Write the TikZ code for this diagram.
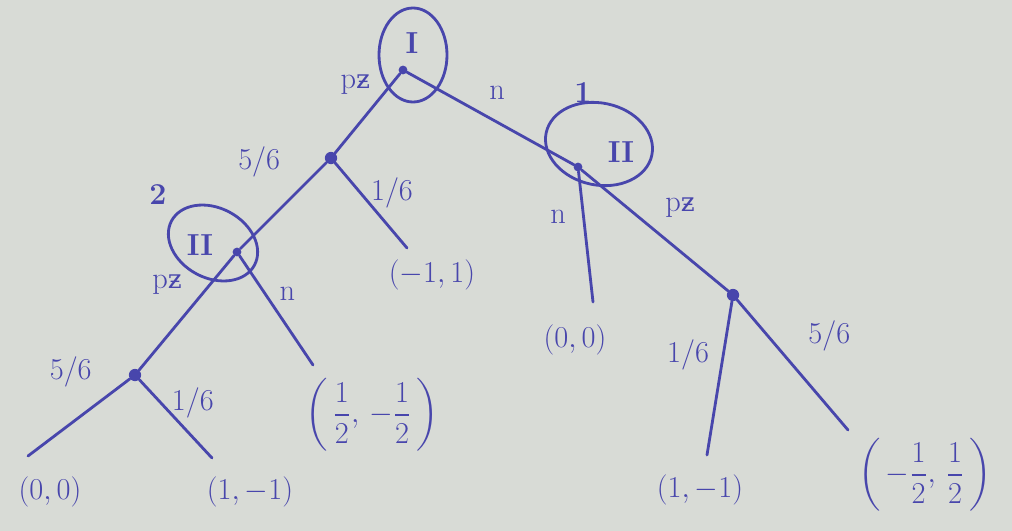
\documentclass[tikz,border=0pt]{standalone}
\usepackage{amsmath, amssymb}
\usepackage{xcolor}
\usepackage{fontspec}
\usepackage{tikz}

\newfontfamily\zfont{DejaVu Serif}

\definecolor{ink}{RGB}{72,70,172}
\definecolor{paper}{RGB}{216,219,214}

\newcommand{\pzlabel}{p{\zfont\fontsize{15}{17}\selectfont ƶ}}

\tikzset{
    branch/.style={ink, line width=1.6pt, line cap=round},
    infoset/.style={ink, line width=1.6pt},
    chance/.style={circle, fill=ink, inner sep=0pt, minimum size=7pt},
    decision/.style={circle, fill=ink, inner sep=0pt, minimum size=5pt},
    lbl/.style={text=ink, font=\LARGE},
    payoff/.style={text=ink, font=\LARGE},
}

\begin{document}
\begin{tikzpicture}[x=0.02cm, y=-0.02cm]
    \fill[paper] (0,0) rectangle (1012,531);

    % information sets
    \draw[infoset] (413,55) ellipse [x radius=34, y radius=47];
    \draw[infoset, rotate around={-12:(599,144)}] (599,144) ellipse [x radius=54, y radius=41];
    \draw[infoset, rotate around={-28:(213,243)}] (213,243) ellipse [x radius=47, y radius=35];

    \node[lbl] (playerI) at (412,43) {\textbf{I}};
    \node[lbl] (playerIIa) at (621,152) {\textbf{II}};
    \node[lbl] (playerIIb) at (200,245) {\textbf{II}};
    \node[lbl, font=\LARGE\bfseries] (setone) at (583,93) {1};
    \node[lbl, font=\LARGE\bfseries] (settwo) at (158,195) {2};

    % nodes
    \node[decision] (root) at (403,70) {};
    \node[chance] (c1) at (331,158) {};
    \node[decision] (d1) at (578,167) {};
    \node[decision] (d2) at (237,252) {};
    \node[chance] (c2) at (733,295) {};
    \node[chance] (c3) at (135,375) {};

    \coordinate (e1) at (407,248);
    \coordinate (e2) at (593,302);
    \coordinate (e3) at (313,365);
    \coordinate (e4) at (707,455);
    \coordinate (e5) at (848,430);
    \coordinate (e6) at (28,456);
    \coordinate (e7) at (212,458);

    % branches
    \draw[branch] (root) -- node[lbl, pos=0.35, above left] {\pzlabel} (c1);
    \draw[branch] (root) -- node[lbl, pos=0.45, above right, yshift=4pt] {n} (d1);
    \draw[branch] (c1) -- node[lbl, pos=0.25, above left, xshift=-10pt] {5/6} (d2);
    \draw[branch] (c1) -- node[lbl, pos=0.35, right, xshift=2pt] {1/6} (e1);
    \draw[branch] (d1) -- node[lbl, pos=0.35, left, xshift=-6pt] {n} (e2);
    \draw[branch] (d1) -- node[lbl, pos=0.45, above right, xshift=6pt] {\pzlabel} (c2);
    \draw[branch] (d2) -- node[lbl, pos=0.4, above left, xshift=-4pt] {\pzlabel} (c3);
    \draw[branch] (d2) -- node[lbl, pos=0.35, right, xshift=4pt] {n} (e3);
    \draw[branch] (c2) -- node[lbl, pos=0.35, left, xshift=-4pt] {1/6} (e4);
    \draw[branch] (c2) -- node[lbl, pos=0.45, above right, xshift=8pt] {5/6} (e5);
    \draw[branch] (c3) -- node[lbl, pos=0.2, above left, xshift=-6pt] {5/6} (e6);
    \draw[branch] (c3) -- node[lbl, pos=0.3, right, xshift=2pt] {1/6} (e7);

    % payoffs
    \node[payoff] (p1) at (50,492) {$(0,0)$};
    \node[payoff] (p2) at (250,492) {$(1,-1)$};
    \node[payoff] (p3) at (372,415) {$\left(\,\dfrac{1}{2},\,-\dfrac{1}{2}\,\right)$};
    \node[payoff] (p4) at (432,275) {$(-1,1)$};
    \node[payoff] (p5) at (575,340) {$(0,0)$};
    \node[payoff] (p6) at (700,490) {$(1,-1)$};
    \node[payoff] (p7) at (925,475) {$\left(\,-\dfrac{1}{2},\,\dfrac{1}{2}\,\right)$};
\end{tikzpicture}
\end{document}
